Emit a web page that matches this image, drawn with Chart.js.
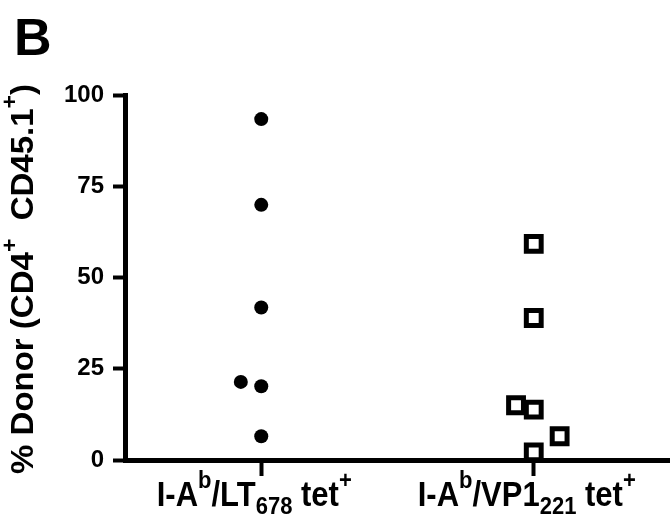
<!DOCTYPE html>
<html>
<head>
<meta charset="utf-8">
<script src="https://cdn.jsdelivr.net/npm/chart.js@4"></script>
<style>
  html, body { margin: 0; padding: 0; background: #fff; overflow: hidden; }
  #wrap { width: 670px; height: 523px; position: relative; }
</style>
</head>
<body>
<div id="wrap"><canvas id="myChart"></canvas></div>
<script>
// categories sit at x = 1 and 3 on a 0..4 axis; ^{..} = superscript, _{..} = subscript
var categories = ["I-A^{b}/LT_{678} tet^{+}", "I-A^{b}/VP1_{221} tet^{+}"];
var categoryX = [1, 3];

// LT678 tet+ (filled circles)
var ltX = [1, 1, 1, 1, 1, 0.85];
var ltY = [93.4, 69.9, 41.8, 20.2, 6.5, 21.4];

// VP1221 tet+ (open squares)
var vpX = [3, 3, 3, 2.87, 3.19, 3];
var vpY = [59.2, 38.9, 13.8, 15.0, 6.5, 2.1];

var yTicks = [0, 25, 50, 75, 100];
var yTitle = "% Donor (CD4^{+}  CD45.1^{+})";
var panelLetter = "B";

var FONT = '"Liberation Sans", Arial, Helvetica, sans-serif';

function toPoints(xs, ys) {
  return xs.map(function (x, i) { return { x: x, y: ys[i] }; });
}

// split "A^{b}_{c}" into pieces
function parseRich(str) {
  var parts = [];
  var re = /([\^_])\{([^}]*)\}/g;
  var last = 0, m;
  while ((m = re.exec(str)) !== null) {
    if (m.index > last) parts.push({ t: str.slice(last, m.index), k: "n" });
    parts.push({ t: m[2], k: m[1] === "^" ? "sup" : "sub" });
    last = re.lastIndex;
  }
  if (last < str.length) parts.push({ t: str.slice(last), k: "n" });
  return parts;
}

// stretch: vertical glyph stretch, the reference type is a bit condensed
function drawRich(ctx, str, cx, baseline, size, stretch) {
  var parts = parseRich(str);
  var small = Math.round(size * 0.7);
  var total = 0;
  parts.forEach(function (p) {
    ctx.font = "bold " + (p.k === "n" ? size : small) + "px " + FONT;
    p.w = ctx.measureText(p.t).width;
    total += p.w;
  });
  ctx.save();
  ctx.translate(cx - total / 2, baseline);
  ctx.scale(1, stretch || 1);
  var x = 0;
  ctx.textAlign = "left";
  ctx.textBaseline = "alphabetic";
  parts.forEach(function (p) {
    ctx.font = "bold " + (p.k === "n" ? size : small) + "px " + FONT;
    var dy = p.k === "sup" ? -0.52 * size : (p.k === "sub" ? 0.22 * size : 0);
    ctx.fillText(p.t, x, dy);
    x += p.w;
  });
  ctx.restore();
}

var textPlugin = {
  id: "richText",
  afterDraw: function (chart) {
    var ctx = chart.ctx;
    var xs = chart.scales.x;
    ctx.save();
    ctx.fillStyle = "#000";

    // category labels under the ticks
    categories.forEach(function (c, i) {
      drawRich(ctx, c, xs.getPixelForValue(categoryX[i]) - 7, 506, 31, 1.12);
    });

    // rotated y axis title
    ctx.save();
    ctx.translate(33, 279);
    ctx.rotate(-Math.PI / 2);
    drawRich(ctx, yTitle, 0, 0, 33, 0.95);
    ctx.restore();

    // panel letter
    ctx.font = "bold 52px " + FONT;
    ctx.textAlign = "left";
    ctx.fillText(panelLetter, 14, 55);
    ctx.restore();
  }
};

var ctx = document.getElementById("myChart").getContext("2d");
var myChart = new Chart(ctx, {
  type: "scatter",
  data: {
    datasets: [
      {
        data: toPoints(ltX, ltY),
        pointStyle: "circle",
        pointRadius: 7,
        pointBorderWidth: 0,
        backgroundColor: "#000",
        borderColor: "#000",
        clip: false,
      },
      {
        data: toPoints(vpX, vpY),
        pointStyle: "rect",
        pointRadius: 10.5,
        pointBorderWidth: 5,
        backgroundColor: "#fff",
        borderColor: "#000",
        clip: false,
      },
    ],
  },
  options: {
    responsive: true,
    maintainAspectRatio: false,
    animation: false,
    layout: { autoPadding: false, padding: { top: 95, left: 0, right: 0, bottom: 0 } },
    plugins: { legend: { display: false }, tooltip: { enabled: false } },
    scales: {
      x: {
        type: "linear",
        min: 0,
        max: 4,
        afterBuildTicks: function (scale) {
          scale.ticks = categoryX.map(function (v) { return { value: v }; });
        },
        afterFit: function (scale) { scale.height = 63; },
        ticks: { callback: function () { return ""; } },
        grid: {
          drawOnChartArea: false,
          drawTicks: true,
          tickLength: 16,
          tickWidth: 4,
          tickColor: "#000",
        },
        border: { display: true, width: 5, color: "#000" },
      },
      y: {
        min: 0,
        max: 100,
        afterBuildTicks: function (scale) {
          scale.ticks = yTicks.map(function (v) { return { value: v }; });
        },
        afterFit: function (scale) { scale.width = 125; },
        ticks: {
          padding: 9,
          color: "#000",
          font: { family: FONT, size: 24, weight: "bold" },
        },
        grid: {
          drawOnChartArea: false,
          drawTicks: true,
          tickLength: 12,
          tickWidth: 4,
          tickColor: "#000",
        },
        border: { display: true, width: 5, color: "#000" },
      },
    },
  },
  plugins: [textPlugin],
});
</script>
</body>
</html>
